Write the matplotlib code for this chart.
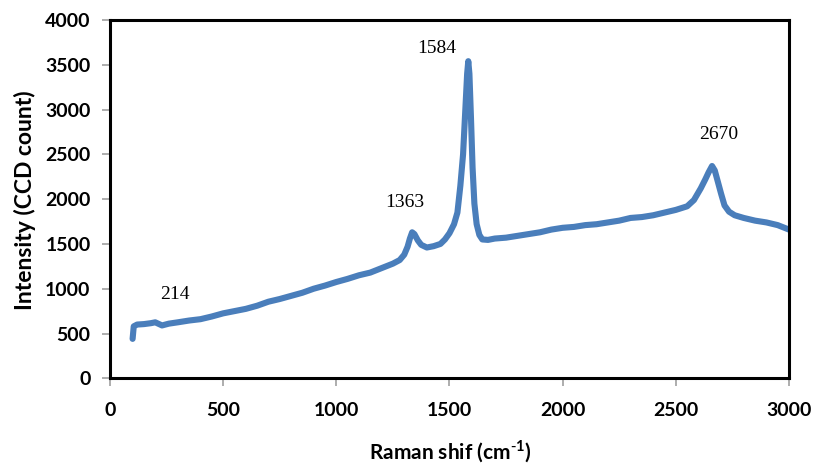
import matplotlib
matplotlib.use("Agg")
import matplotlib.pyplot as plt

# Raman shift (cm-1) and intensity (CCD count)
raman_shift = [100, 105, 120, 150, 180, 200, 230, 260, 300, 350, 400, 450, 500, 550,
               600, 650, 700, 750, 800, 850, 900, 950, 1000, 1050, 1100, 1150, 1200,
               1250, 1280, 1300, 1315, 1325, 1335, 1345, 1360, 1375, 1400, 1430, 1460,
               1480, 1500, 1520, 1535, 1548, 1560, 1570, 1578, 1583, 1588, 1595, 1602,
               1610, 1620, 1632, 1645, 1670, 1700, 1750, 1800, 1850, 1900, 1950, 2000,
               2050, 2100, 2150, 2200, 2250, 2300, 2350, 2400, 2450, 2500, 2550, 2580,
               2610, 2630, 2645, 2660, 2672, 2685, 2700, 2715, 2735, 2760, 2800, 2850,
               2900, 2950, 3000]
intensity = [440, 580, 600, 605, 615, 625, 590, 610, 625, 645, 660, 690, 725, 750,
             775, 810, 855, 885, 920, 955, 1000, 1035, 1075, 1110, 1150, 1180, 1230,
             1280, 1320, 1380, 1470, 1560, 1630, 1610, 1540, 1490, 1460, 1475, 1500,
             1550, 1620, 1720, 1850, 2150, 2500, 3000, 3400, 3540, 3400, 2900, 2350,
             1950, 1720, 1600, 1550, 1545, 1560, 1570, 1590, 1610, 1630, 1660, 1680,
             1690, 1710, 1720, 1740, 1760, 1790, 1800, 1820, 1850, 1880, 1920, 1990,
             2120, 2220, 2300, 2370, 2320, 2200, 2060, 1930, 1860, 1820, 1790, 1760,
             1740, 1710, 1660]

peak_labels = ["214", "1363", "1584", "2670"]
x_ticks = [0, 500, 1000, 1500, 2000, 2500, 3000]
y_ticks = [0, 500, 1000, 1500, 2000, 2500, 3000, 3500, 4000]

plt.rcParams['font.family'] = ['Lato', 'DejaVu Sans']

fig = plt.figure(figsize=(8.14, 4.69), dpi=100)
ax = fig.add_axes([0.1351, 0.1934, 0.8342, 0.764])

ax.plot(raman_shift, intensity, color='#4A7EBB', lw=4.4, solid_joinstyle='round',
        solid_capstyle='round')

ax.set_xlim(0, 3000)
ax.set_ylim(0, 4000)
ax.set_xticks(x_ticks)
ax.set_yticks(y_ticks)

for s in ax.spines.values():
    s.set_linewidth(2.2)
    s.set_color('black')

ax.tick_params(axis='both', direction='out', length=6, width=1.2, color='#a0a0a0',
               labelsize=14)
ax.tick_params(axis='x', pad=11)
ax.tick_params(axis='y', pad=8)
for lab in ax.get_xticklabels() + ax.get_yticklabels():
    lab.set_fontweight('bold')

ax.set_xlabel(r'Raman shif (cm$^{\mathregular{\text{-}1}}$)', fontsize=15, fontweight='bold')
ax.set_ylabel('Intensity (CCD count)', fontsize=16.5, fontweight='bold')
ax.xaxis.label.set_verticalalignment('center')
ax.xaxis.set_label_coords(0.5007, -0.205)
ax.yaxis.label.set_verticalalignment('center')
ax.yaxis.set_label_coords(-0.125, 0.497)

label_pos = [(287, 930), (1304, 1968), (1445, 3686), (2691, 2727)]
for txt, (px, py) in zip(peak_labels, label_pos):
    ax.text(px, py, txt, fontsize=14, family='Liberation Serif',
            ha='center', va='center')

fig.savefig('out.png', dpi=100)
